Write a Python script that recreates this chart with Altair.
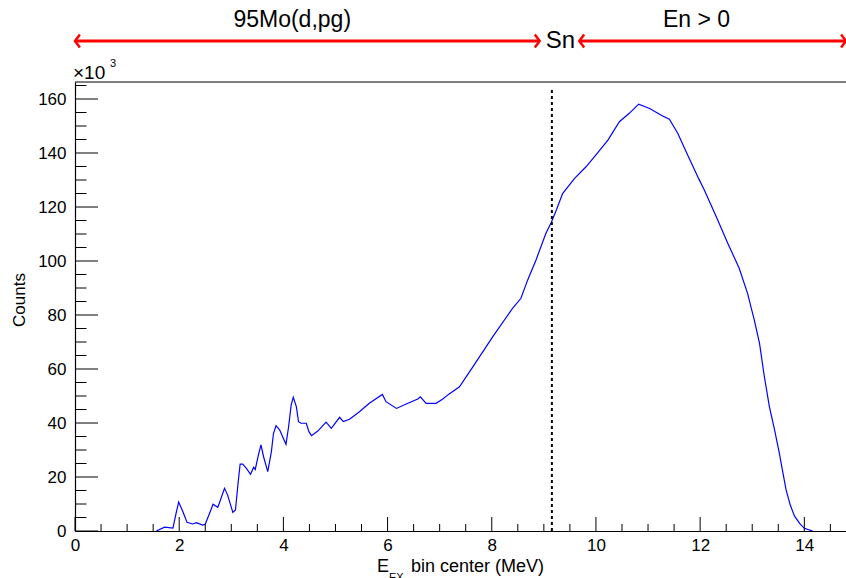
import altair as alt
import pandas as pd

# ---------------- data ----------------
energy = [1.56, 1.72, 1.88, 1.94, 1.99, 2.07, 2.15, 2.26, 2.33, 2.45, 2.50, 2.57, 2.65,
          2.74, 2.77, 2.87, 2.93, 3.03, 3.08, 3.13, 3.17, 3.22, 3.29, 3.37, 3.43, 3.46,
          3.52, 3.57, 3.62, 3.70, 3.77, 3.81, 3.86, 3.93, 3.99, 4.05, 4.10, 4.15, 4.19,
          4.25, 4.29, 4.34, 4.44, 4.49, 4.54, 4.66, 4.82, 4.92, 5.08, 5.15, 5.27, 5.46,
          5.65, 5.90, 5.97, 6.17, 6.39, 6.58, 6.63, 6.74, 6.93, 7.06, 7.17, 7.38, 7.64,
          8.02, 8.40, 8.56, 8.69, 8.85, 9.04, 9.14, 9.24, 9.36, 9.59, 9.81, 10.00, 10.23,
          10.45, 10.64, 10.82, 11.03, 11.28, 11.41, 11.57, 11.76, 11.97, 12.08, 12.31,
          12.53, 12.75, 12.91, 13.04, 13.14, 13.23, 13.33, 13.43, 13.52, 13.59, 13.65,
          13.73, 13.81, 13.91, 14.00, 14.16]
counts_k = [0.0, 1.4, 1.1, 6.5, 10.7, 7.2, 3.2, 2.6, 3.1, 2.2, 2.5, 5.9, 9.9,
            8.8, 10.3, 15.8, 13.3, 6.9, 7.8, 17.7, 24.8, 24.8, 23.2, 21.0, 23.6, 22.8,
            28.1, 31.9, 27.5, 22.0, 29.4, 36.2, 39.0, 37.4, 34.7, 32.1, 38.6, 46.7, 49.5,
            46.0, 40.5, 39.9, 39.9, 36.8, 35.3, 37.0, 40.3, 38.0, 42.1, 40.5, 41.4, 44.2,
            47.3, 50.6, 47.9, 45.4, 47.3, 48.9, 49.7, 47.3, 47.3, 48.9, 50.6, 53.4, 60.9,
            72.0, 82.5, 86.2, 93.0, 100.4, 110.3, 114.2, 118.9, 125.0, 130.6, 134.9, 139.3, 144.8,
            151.6, 154.7, 158.1, 156.5, 153.7, 152.5, 147.3, 139.3, 130.6, 126.3, 116.4,
            106.6, 97.3, 88.0, 78.1, 69.5, 57.5, 46.0, 37.4, 28.8, 21.4, 15.2,
            9.6, 5.6, 2.8, 1.0, 0.0]

x_major = [0, 2, 4, 6, 8, 10, 12, 14]
x_minor = [0.5, 1, 1.5, 2.5, 3, 3.5, 4.5, 5, 5.5, 6.5, 7, 7.5, 8.5, 9, 9.5,
           10.5, 11, 11.5, 12.5, 13, 13.5, 14.5]
y_major = [0, 20, 40, 60, 80, 100, 120, 140, 160]
y_minor = [5, 10, 15, 25, 30, 35, 45, 50, 55, 65, 70, 75, 85, 90, 95,
           105, 110, 115, 125, 130, 135, 145, 150, 155, 165]

sn_energy = [9.154]
left_arrow = [0.0, 8.92]
right_arrow = [9.68, 14.8]
title_labels = ["95Mo(d,pg)", "En > 0"]
title_label_x = [4.17, 11.93]
sn_label = ["Sn"]
sn_label_x = [9.32]

# ---------------- layout ----------------
W, H = 771, 449
XMAX, YMAX = 14.8, 166.3
FONT = "Liberation Sans"
RED = "#ff0000"

xs = alt.Scale(domain=[0, XMAX], nice=False, zero=False)
ys = alt.Scale(domain=[0, YMAX], nice=False, zero=False)

X_AXIS = alt.Axis(values=x_major, format="d", ticks=False, grid=False,
                  domainColor="black", domainWidth=1.2, labelFlush=False, labelOverlap=False,
                  labelFont=FONT, labelFontSize=17, labelColor="black",
                  labelPadding=6, title=None)
Y_AXIS = alt.Axis(values=y_major, format="d", ticks=False, grid=False,
                  domainColor="black", domainWidth=1.2, labelFlush=False, labelOverlap=False,
                  labelFont=FONT, labelFontSize=17, labelColor="black",
                  labelPadding=9, title=None)


def X(field):
    return alt.X(field, scale=xs, axis=X_AXIS)


def Y(field):
    return alt.Y(field, scale=ys, axis=Y_AXIS)


df = pd.DataFrame({"E": energy, "C": counts_k})

hist = alt.Chart(df).mark_line(color="#0000ff", strokeWidth=1.2, clip=True).encode(
    x=X("E:Q"), y=Y("C:Q"))


def vticks(vals, length):
    return alt.Chart(pd.DataFrame({"v": vals})).mark_rule(color="black", strokeWidth=1).encode(
        x=X("v:Q"), y=alt.value(H), y2=alt.value(H - length))


def hticks(vals, length):
    return alt.Chart(pd.DataFrame({"v": vals})).mark_rule(color="black", strokeWidth=1).encode(
        y=Y("v:Q"), x=alt.value(0), x2=alt.value(length))


top_frame = alt.Chart(pd.DataFrame({"a": [0]})).mark_rule(color="black", strokeWidth=1.2).encode(
    x=alt.value(0), x2=alt.value(W), y=alt.value(0))

sn_line = alt.Chart(pd.DataFrame({"x": sn_energy})).mark_rule(
    color="black", strokeWidth=2, strokeDash=[3, 3]).encode(
    x=X("x:Q"), y=alt.value(H), y2=alt.value(6))

arrows_df = pd.DataFrame({"x1": [left_arrow[0], right_arrow[0]], "x2": [left_arrow[1], right_arrow[1]]})
arrows = alt.Chart(arrows_df).mark_rule(color=RED, strokeWidth=3, clip=False).encode(
    x=X("x1:Q"), x2="x2:Q", y=alt.value(-41))

heads_left = alt.Chart(pd.DataFrame({"x": [left_arrow[0], right_arrow[0]]})).mark_point(
    shape="M 0.75 -1 L 0 0 L 0.75 1", size=170, color=RED, strokeWidth=2.5,
    filled=False, clip=False, opacity=1).encode(x=X("x:Q"), y=alt.value(-41))
heads_right = alt.Chart(pd.DataFrame({"x": [left_arrow[1], right_arrow[1]]})).mark_point(
    shape="M -0.75 -1 L 0 0 L -0.75 1", size=170, color=RED, strokeWidth=2.5,
    filled=False, clip=False, opacity=1).encode(x=X("x:Q"), y=alt.value(-41))

title_text = alt.Chart(pd.DataFrame({"t": title_labels, "x": title_label_x})).mark_text(
    font=FONT, fontSize=23, color="black", baseline="middle", align="center", clip=False).encode(
    x=X("x:Q"), y=alt.value(-62), text="t:N")
sn_text = alt.Chart(pd.DataFrame({"t": sn_label, "x": sn_label_x})).mark_text(
    font=FONT, fontSize=24, color="black", baseline="middle", align="center", clip=False).encode(
    x=X("x:Q"), y=alt.value(-41), text="t:N")


def ptext(t, x, y, size, align="left", angle=None, baseline="alphabetic"):
    kw = dict(font=FONT, fontSize=size, color="black", align=align, baseline=baseline, clip=False)
    if angle is not None:
        kw["angle"] = angle
    return alt.Chart(pd.DataFrame({"t": [t]})).mark_text(**kw).encode(
        x=alt.value(x), y=alt.value(y), text="t:N")


x10 = ptext("×10", -2, -3, 19)
x10e = ptext("3", 35, -15, 11)
counts_title = ptext("Counts", -55, 218, 17, align="center", angle=270, baseline="middle")
xt_E = ptext("E", 302, 490, 18)
xt_EX = ptext("EX", 314, 499, 11)
xt_rest = ptext("bin center (MeV)", 336, 490, 18)

chart = alt.layer(
    hist, vticks(x_major, 14), vticks(x_minor, 7), hticks(y_major, 23), hticks(y_minor, 11.5),
    top_frame, sn_line, arrows, heads_left, heads_right, title_text, sn_text,
    x10, x10e, counts_title, xt_E, xt_EX, xt_rest,
).properties(
    width=W, height=H,
    autosize=alt.AutoSizeParams(type="none"),
    padding={"left": 75, "top": 82, "right": 0, "bottom": 47},
    background="white",
).configure_view(stroke=None)

chart.save("out.html", embed_options={"renderer": "svg", "actions": False})
